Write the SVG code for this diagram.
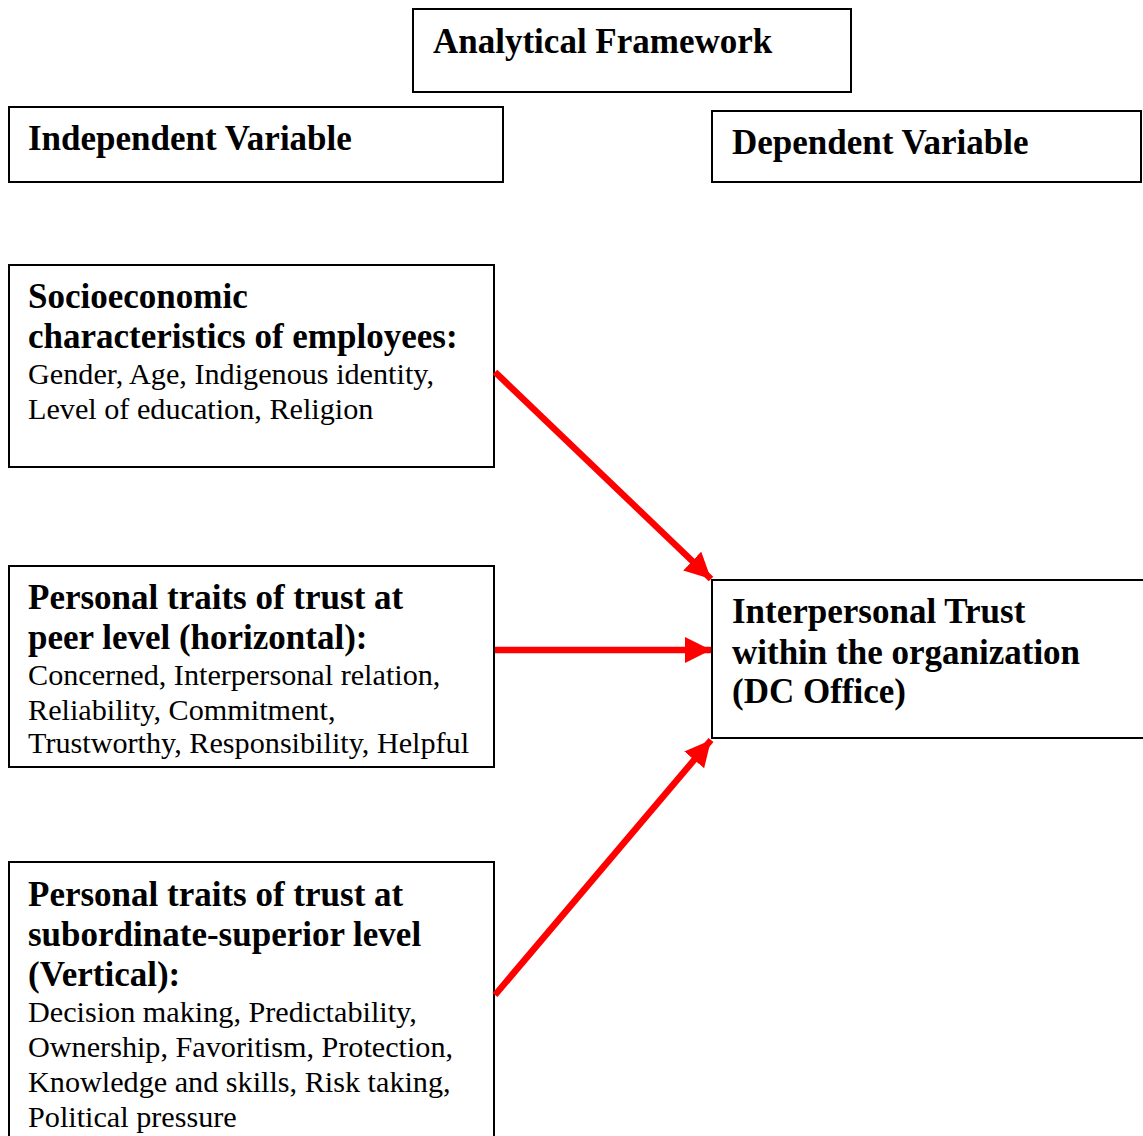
<svg xmlns="http://www.w3.org/2000/svg" width="1143" height="1136" viewBox="0 0 1143 1136">
  <style>
    .box { fill: #ffffff; stroke: #000000; stroke-width: 2; }
    .hd { font-family: "Liberation Serif", "Times New Roman", serif; font-weight: bold; font-size: 35px; fill: #000; }
    .tx { font-family: "Liberation Serif", "Times New Roman", serif; font-size: 30.2px; fill: #000; }
    .arrow { stroke: #ff0000; stroke-width: 6.5; fill: none; marker-end: url(#head); }
  </style>
  <defs>
    <marker id="head" markerUnits="userSpaceOnUse" markerWidth="28" markerHeight="26" refX="26" refY="13" orient="auto">
      <path d="M0,0 L26,13 L0,26 Z" fill="#ff0000"/>
    </marker>
  </defs>
  <rect width="1143" height="1136" fill="#ffffff"/>

  <g id="title">
    <rect class="box" x="413" y="9" width="438" height="83"/>
    <text class="hd" x="433" y="53">Analytical Framework</text>
  </g>

  <g id="independent">
    <rect class="box" x="9" y="107" width="494" height="75"/>
    <text class="hd" x="28" y="150">Independent Variable</text>
  </g>

  <g id="dependent">
    <rect class="box" x="712" y="111" width="429" height="71"/>
    <text class="hd" x="732" y="154">Dependent Variable</text>
  </g>

  <g id="socioeconomic">
    <rect class="box" x="9" y="265" width="485" height="202"/>
    <text class="hd" x="28" y="308">Socioeconomic</text>
    <text class="hd" x="28" y="348">characteristics of employees:</text>
    <text class="tx" x="28" y="384">Gender, Age, Indigenous identity,</text>
    <text class="tx" x="28" y="419">Level of education, Religion</text>
  </g>

  <g id="peer">
    <rect class="box" x="9" y="566" width="485" height="201"/>
    <text class="hd" x="28" y="609">Personal traits of trust at</text>
    <text class="hd" x="28" y="649">peer level (horizontal):</text>
    <text class="tx" x="28" y="685">Concerned, Interpersonal relation,</text>
    <text class="tx" x="28" y="720">Reliability, Commitment,</text>
    <text class="tx" x="28" y="753">Trustworthy, Responsibility, Helpful</text>
  </g>

  <g id="vertical">
    <rect class="box" x="9" y="862" width="485" height="290"/>
    <text class="hd" x="28" y="906">Personal traits of trust at</text>
    <text class="hd" x="28" y="946">subordinate-superior level</text>
    <text class="hd" x="28" y="986">(Vertical):</text>
    <text class="tx" x="28" y="1022">Decision making, Predictability,</text>
    <text class="tx" x="28" y="1057">Ownership, Favoritism, Protection,</text>
    <text class="tx" x="28" y="1092">Knowledge and skills, Risk taking,</text>
    <text class="tx" x="28" y="1127">Political pressure</text>
  </g>

  <g id="trust">
    <rect class="box" x="712" y="580" width="440" height="158"/>
    <text class="hd" x="732" y="623">Interpersonal Trust</text>
    <text class="hd" x="732" y="664">within the organization</text>
    <text class="hd" x="732" y="703">(DC Office)</text>
  </g>

  <g id="connectors">
    <line class="arrow" x1="495" y1="372" x2="711" y2="579"/>
    <line class="arrow" x1="495" y1="650" x2="711" y2="650"/>
    <line class="arrow" x1="495" y1="995" x2="711" y2="740"/>
  </g>
</svg>
